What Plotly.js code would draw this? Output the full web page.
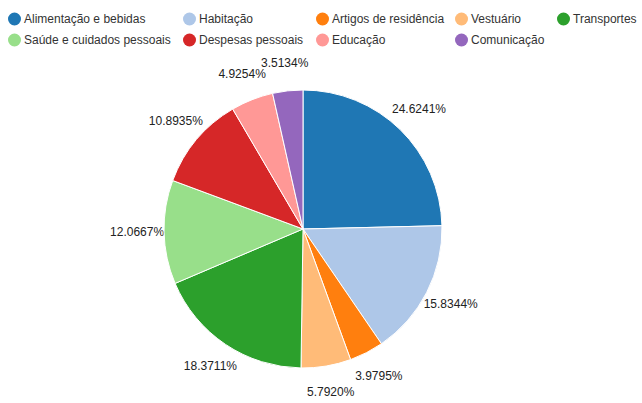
<!DOCTYPE html>
<html>
<head>
<meta charset="utf-8">
<script src="https://cdn.plot.ly/plotly-3.0.1.min.js"></script>
<style>
  html, body { margin: 0; padding: 0; background: #fff; }
  #chart { width: 642px; height: 403px; }
</style>
</head>
<body>
<div id="chart"></div>
<script>
// categorias e valores (%)
const categorias = [
  'Alimentação e bebidas', 'Habitação', 'Artigos de residência', 'Vestuário', 'Transportes',
  'Saúde e cuidados pessoais', 'Despesas pessoais', 'Educação', 'Comunicação'
];
const valores = [24.6241, 15.8344, 3.9795, 5.7920, 18.3711, 12.0667, 10.8935, 4.9254, 3.5134];
const cores = [
  '#1f77b4', '#aec7e8', '#ff7f0e', '#ffbb78', '#2ca02c',
  '#98df8a', '#d62728', '#ff9896', '#9467bd'
];

const W = 642, H = 403;
const fonte = 'Liberation Sans, Arial, sans-serif';

// centro e raio da pizza (px)
const cx0 = 303, cy0 = 229, raio = 139;
const raioRotulo = 166;

// legenda em grade (5 colunas), desenhada a mao com circulos + texto
const colunasX = [8, 183, 316, 455, 557];
const linhasY = [19, 40];
const shapes = [];
const annotations = [];

categorias.forEach((nome, i) => {
  const cx = colunasX[i % 5] + 6.5;
  const cy = linhasY[Math.floor(i / 5)];
  shapes.push({
    type: 'circle',
    xref: 'paper', yref: 'paper',
    xsizemode: 'pixel', ysizemode: 'pixel',
    xanchor: cx / W, yanchor: 1 - cy / H,
    x0: -6.5, x1: 6.5, y0: -6.5, y1: 6.5,
    fillcolor: cores[i],
    line: { width: 0 }
  });
  annotations.push({
    xref: 'paper', yref: 'paper',
    x: (cx + 7) / W, y: 1 - cy / H,
    xanchor: 'left', yanchor: 'middle',
    text: nome,
    showarrow: false,
    font: { family: fonte, size: 12, color: '#333' }
  });
});

const pizza = {
  type: 'pie',
  labels: categorias,
  values: valores,
  sort: false,
  direction: 'clockwise',
  rotation: 0,
  marker: { colors: cores, line: { color: '#ffffff', width: 1 } },
  textposition: 'none',
  hoverinfo: 'label+value',
  showlegend: false,
  domain: {
    x: [(cx0 - raio) / W, (cx0 + raio) / W],
    y: [1 - (cy0 + raio) / H, 1 - (cy0 - raio) / H]
  }
};

// rotulos no angulo medio de cada fatia, fora da pizza
const total = valores.reduce((a, b) => a + b, 0);
let acum = 0;
const angulos = valores.map(v => {
  const meio = (acum + v / 2) / total * 360;
  acum += v;
  return meio;
});

const rotulos = {
  type: 'scatterpolar',
  mode: 'text',
  r: valores.map(() => 1),
  theta: angulos,
  text: valores.map(v => v.toFixed(4) + '%'),
  textposition: 'middle center',
  textfont: { family: fonte, size: 12, color: '#222' },
  hoverinfo: 'skip',
  showlegend: false,
  cliponaxis: false
};

const layout = {
  width: W,
  height: H,
  margin: { l: 0, r: 0, t: 0, b: 0 },
  paper_bgcolor: '#ffffff',
  showlegend: false,
  polar: {
    domain: {
      x: [(cx0 - raioRotulo) / W, (cx0 + raioRotulo) / W],
      y: [1 - (cy0 + raioRotulo) / H, 1 - (cy0 - raioRotulo) / H]
    },
    bgcolor: 'rgba(0,0,0,0)',
    radialaxis: { visible: false, range: [0, 1] },
    angularaxis: { visible: false, rotation: 90, direction: 'clockwise' }
  },
  shapes: shapes,
  annotations: annotations
};

Plotly.newPlot('chart', [pizza, rotulos], layout, { displayModeBar: false, staticPlot: true });
</script>
</body>
</html>
